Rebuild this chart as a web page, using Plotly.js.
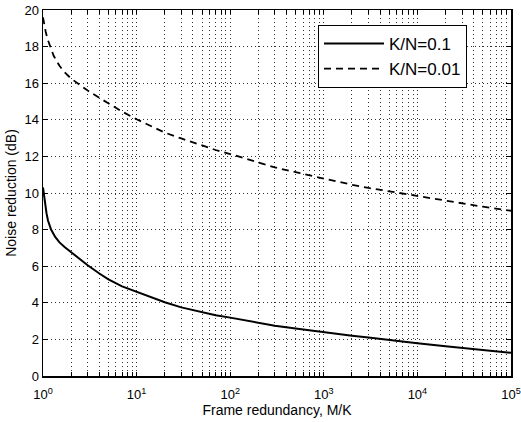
<!DOCTYPE html>
<html>
<head>
<meta charset="utf-8">
<script src="https://cdn.plot.ly/plotly-3.0.1.min.js"></script>
<style>html,body{margin:0;padding:0;background:#fff;}#chart{width:521px;height:422px;}</style>
</head>
<body>
<div id="chart"></div>
<script>
// Frame redundancy M/K (x) and noise reduction in dB (y)
var solidX = [1, 1.02, 1.04, 1.06, 1.09, 1.13, 1.22, 1.35, 1.5, 1.7, 2, 2.5, 3, 4, 5, 7, 10, 15, 20, 30, 50, 70, 100, 150, 200, 300, 500, 1000, 2000, 3000, 5000, 10000, 20000, 30000, 50000, 100000];
var solidY = [10.3, 9.9, 9.6, 9.3, 8.9, 8.5, 8.0, 7.6, 7.3, 7.05, 6.75, 6.35, 6.05, 5.6, 5.28, 4.9, 4.6, 4.25, 4.03, 3.75, 3.48, 3.32, 3.19, 3.02, 2.89, 2.75, 2.6, 2.39, 2.2, 2.1, 1.96, 1.79, 1.63, 1.53, 1.42, 1.27];
var dashX = [1, 1.03, 1.07, 1.12, 1.19, 1.3, 1.5, 1.7, 2, 2.5, 3, 4, 5, 7, 10, 15, 20, 30, 50, 70, 100, 200, 300, 557, 1000, 2000, 3000, 6000, 10000, 20000, 30000, 50000, 100000];
var dashY = [19.6, 19.2, 18.8, 18.4, 18.0, 17.5, 16.95, 16.6, 16.25, 15.9, 15.6, 15.2, 14.9, 14.45, 14.03, 13.6, 13.3, 12.98, 12.6, 12.35, 12.13, 11.66, 11.4, 11.08, 10.78, 10.45, 10.28, 10.02, 9.85, 9.6, 9.45, 9.25, 9.03];
var seriesNames = ['K/N=0.1', 'K/N=0.01'];
var xMajorLabels = ['10<sup>0</sup>', '10<sup>1</sup>', '10<sup>2</sup>', '10<sup>3</sup>', '10<sup>4</sup>', '10<sup>5</sup>'];
var yTicks = [0, 2, 4, 6, 8, 10, 12, 14, 16, 18, 20];

var xTickVals = [], xTickText = [];
for (var d = 0; d <= 5; d++) {
  for (var m = 1; m <= 9; m++) {
    if (d === 5 && m > 1) break;
    xTickVals.push(m * Math.pow(10, d));
    xTickText.push(m === 1 ? xMajorLabels[d] : '');
  }
}

var traces = [
  {x: solidX, y: solidY, name: seriesNames[0], mode: 'lines', line: {color: '#000', width: 2, dash: 'solid'}},
  {x: dashX, y: dashY, name: seriesNames[1], mode: 'lines', line: {color: '#000', width: 1.8, dash: '7px,5px'}}
];

var ff = 'Liberation Sans, Arial, sans-serif';
var layout = {
  width: 521, height: 422,
  margin: {l: 43, r: 10, t: 10, b: 46},
  paper_bgcolor: '#fff', plot_bgcolor: '#fff',
  font: {family: ff, color: '#000', size: 13},
  showlegend: true,
  legend: {x: 0.906, y: 0.959, xanchor: 'right', yanchor: 'top', bgcolor: '#fff', bordercolor: '#000', borderwidth: 1,
           font: {family: ff, size: 17, color: '#000'}, itemwidth: 60, tracegroupgap: 0},
  xaxis: {
    type: 'log', range: [0, 5], tickmode: 'array', tickvals: xTickVals, ticktext: xTickText,
    showgrid: true, gridcolor: '#333', griddash: '1px,3px', gridwidth: 1,
    ticks: 'inside', ticklen: 4, tickcolor: '#000', mirror: 'ticks', showline: true, linecolor: '#000', linewidth: 1.5,
    zeroline: false, ticklabelstandoff: 6, tickfont: {family: ff, size: 13, color: '#000'},
    title: {text: 'Frame redundancy, M/K', font: {family: ff, size: 14, color: '#000'}, standoff: 2}
  },
  yaxis: {
    range: [0, 20], tickmode: 'array', tickvals: yTicks,
    showgrid: true, gridcolor: '#333', griddash: '1px,3px', gridwidth: 1,
    ticks: 'inside', ticklen: 5, tickcolor: '#000', mirror: 'ticks', showline: true, linecolor: '#000', linewidth: 1.5,
    zeroline: false, tickfont: {family: ff, size: 13, color: '#000'},
    title: {text: 'Noise reduction (dB)', font: {family: ff, size: 14, color: '#000'}, standoff: 4}
  }
};
Plotly.newPlot('chart', traces, layout, {staticPlot: true, displayModeBar: false});
</script>
</body>
</html>
